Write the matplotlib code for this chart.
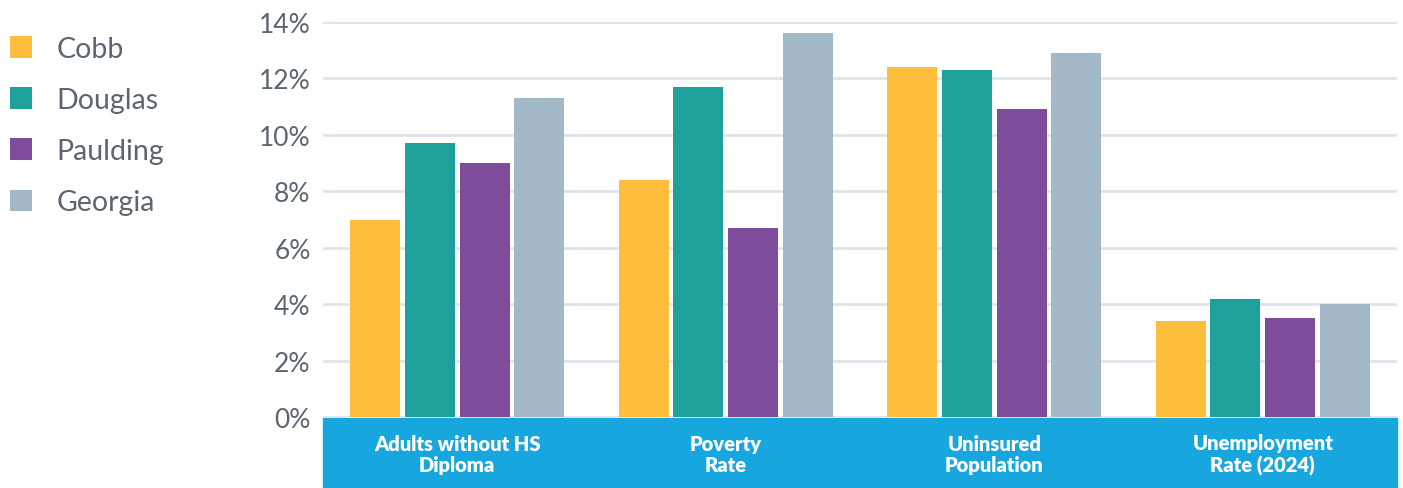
import matplotlib
matplotlib.use("Agg")
import matplotlib.pyplot as plt
from matplotlib.patches import Rectangle
import numpy as np

categories = ["Adults without HS\nDiploma", "Poverty\nRate", "Uninsured\nPopulation", "Unemployment\nRate (2024)"]
series_names = ["Cobb", "Douglas", "Paulding", "Georgia"]
cobb = [7.0, 8.4, 12.4, 3.4]
douglas = [9.7, 11.7, 12.3, 4.2]
paulding = [9.0, 6.7, 10.9, 3.5]
georgia = [11.3, 13.6, 12.9, 4.0]
yticks = [0, 2, 4, 6, 8, 10, 12, 14]
ytick_labels = ["0%", "2%", "4%", "6%", "8%", "10%", "12%", "14%"]

colors = ["#FDBE3B", "#1FA19B", "#7F4C9C", "#A4B9C7"]
text_gray = "#5B6670"
band_blue = "#18A6DE"
grid_col = "#DFE4EC"

plt.rcParams['font.family'] = ['Lato', 'DejaVu Sans']

W, H = 1403, 489
fig = plt.figure(figsize=(W / 100, H / 100), dpi=100)
ax_l, ax_r, ax_b, ax_t = 323, 1397, 418, 23
ax = fig.add_axes([ax_l / W, 1 - ax_b / H, (ax_r - ax_l) / W, (ax_b - ax_t) / H])

x = np.arange(len(categories))
pitch = 0.2034
width = 0.1866
handles = []
for j, (name, vals) in enumerate(zip(series_names, [cobb, douglas, paulding, georgia])):
    b = ax.bar(x + (j - 1.5) * pitch, vals, width=width, color=colors[j], label=name, zorder=3)
    handles.append(b)

ax.set_xlim(-0.5, len(categories) - 0.5)
ax.set_ylim(0, 14)
ax.set_yticks(yticks)
ax.set_yticklabels(ytick_labels, fontsize=19, color=text_gray)
ax.tick_params(axis='y', length=0, pad=9)
ax.set_xticks([])
ax.yaxis.grid(True, color=grid_col, linewidth=2, zorder=0)
for s in ax.spines.values():
    s.set_visible(False)

# blue category band below the axis
band_h = (489 - 419) / (ax_b - ax_t)
ax.add_patch(Rectangle((0, -band_h - 0.01), 1, band_h + 0.008, transform=ax.transAxes,
                       color=band_blue, clip_on=False, zorder=2))
for i, cat in enumerate(categories):
    ax.text(i, -0.5 * band_h - 0.005, cat, transform=ax.get_xaxis_transform(),
            ha='center', va='center', color='white', fontsize=14.5, fontweight='heavy',
            linespacing=1.15)

leg = fig.legend(handles=handles, labels=series_names, loc='upper left',
                 bbox_to_anchor=(10 / W, 1 - 37 / H), frameon=False, fontsize=20.5,
                 handlelength=0.78, handleheight=0.78, handletextpad=0.85,
                 labelspacing=0.88, borderaxespad=0.0, borderpad=0.0)
for t in leg.get_texts():
    t.set_color(text_gray)

fig.savefig("out.png", dpi=100)
